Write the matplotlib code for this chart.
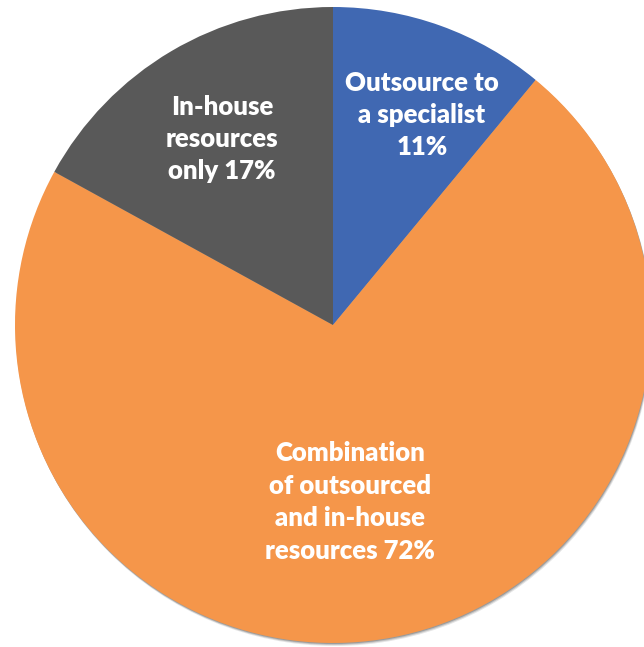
import matplotlib.pyplot as plt
from matplotlib.patches import Circle

# share of respondents by approach
labels = ['Outsource to\na specialist', 'Combination\nof outsourced\nand in-house\nresources', 'In-house\nresources\nonly']
shares = [11, 72, 17]
colors = ['#4068B2', '#F5964A', '#595959']
# how the percentage joins its label
pct_sep = ['\n', ' ', ' ']

# where each label sits (pixel units, origin bottom-left)
label_pos = [(422, 532), (350, 145), (222, 508)]

W, H = 644, 647
CX, CY, R = 333, 322, 318


def main():
    fig = plt.figure(figsize=(W / 100, H / 100), dpi=100)
    ax = fig.add_axes([0, 0, 1, 1])

    # soft drop shadow under the pie
    for off, a in [(3, 0.10), (2, 0.15), (1, 0.2)]:
        ax.add_patch(Circle((CX + off * 0.5, CY - off), R, color='black',
                            alpha=a, lw=0, zorder=0))

    ax.pie(shares, colors=colors, startangle=90, counterclock=False,
           center=(CX, CY), radius=R,
           wedgeprops=dict(linewidth=0), frame=True)

    for lab, val, sep, (x, y) in zip(labels, shares, pct_sep, label_pos):
        ax.text(x, y, f'{lab}{sep}{val}%', ha='center', va='center',
                color='white', fontsize=18.5, fontweight='heavy',
                family=['Lato', 'DejaVu Sans'], linespacing=1.42)

    ax.set_xlim(0, W)
    ax.set_ylim(0, H)
    ax.set_aspect('equal')
    ax.axis('off')

    fig.savefig('out.png', dpi=100)


if __name__ == '__main__':
    main()
